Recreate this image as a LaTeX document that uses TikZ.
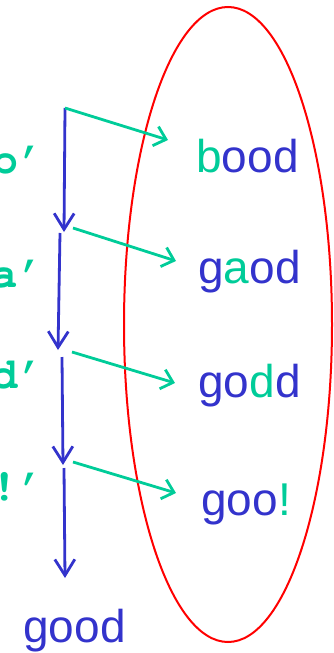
\documentclass[tikz,border=0pt]{standalone}
\usepackage{fontspec}
\setmainfont{Liberation Sans}
\usetikzlibrary{arrows.meta}
\definecolor{WordBlue}{HTML}{3333CC}
\definecolor{EditGreen}{HTML}{00CC99}
\definecolor{SetRed}{HTML}{FF0000}
\newcommand{\courierbold}{\fontencoding{T1}\fontfamily{pcr}\fontseries{b}\selectfont}

\begin{document}
\begin{tikzpicture}[x=1pt,y=-1pt,line width=2.8pt,
  chain/.style={draw=WordBlue,-{Straight Barb[length=16pt,width=20pt,line width=2.8pt]}},
  edit/.style={draw=EditGreen,-{Straight Barb[length=11pt,width=20pt,line width=2.8pt]}},
  word/.style={anchor=base west,inner sep=0pt,text=WordBlue,font=\fontsize{46}{46}\selectfont},
  code/.style={anchor=base east,inner sep=0pt,text=EditGreen,font=\courierbold\fontsize{44}{44}\selectfont}]
  \useasboundingbox (0,0) rectangle (333,653);
  \clip (0,0) rectangle (333,653);
  % edits taken one after another
  \node[code] (lb) at (46,173) {'b'};
  \node[code] (la) at (46,287) {'a'};
  \node[code] (ld) at (46,388) {'d'};
  \node[code] (lx) at (46,500) {'!'};
  % words one edit away
  \node[word] (wb) at (195,172) {\textcolor{EditGreen}{b}ood};
  \node[word] (wa) at (197,283) {g\textcolor{EditGreen}{a}od};
  \node[word] (wd) at (197,397) {go\textcolor{EditGreen}{d}d};
  \node[word] (wx) at (200,515) {goo\textcolor{EditGreen}{!}};
  \node[word] (good) at (22,642) {good};
  \draw[SetRed,line width=2pt] (228,324.5) ellipse [x radius=104,y radius=317.5];
  % blue chain down to the word
  \coordinate (c0) at (65,108);
  \coordinate (c1) at (64,232);
  \coordinate (c1s) at (60,233);
  \coordinate (c2) at (58,350);
  \coordinate (c2s) at (62,357);
  \coordinate (c3) at (63,465);
  \coordinate (c3s) at (64,468);
  \coordinate (c4) at (65,578);
  \draw[chain] (c0) -- (c1);
  \draw[chain] (c1s) -- (c2);
  \draw[chain] (c2s) -- (c3);
  \draw[chain] (c3s) -- (c4);
  % green arrows into the set
  \coordinate (e1) at (73,228);
  \coordinate (e2) at (72,352);
  \coordinate (e3) at (73,462);
  \coordinate (t0) at (168,140);
  \coordinate (t1) at (176,261);
  \coordinate (t2) at (175,383);
  \coordinate (t3) at (176,493);
  \draw[edit] (c0) -- (t0);
  \draw[edit] (e1) -- (t1);
  \draw[edit] (e2) -- (t2);
  \draw[edit] (e3) -- (t3);
\end{tikzpicture}
\end{document}
